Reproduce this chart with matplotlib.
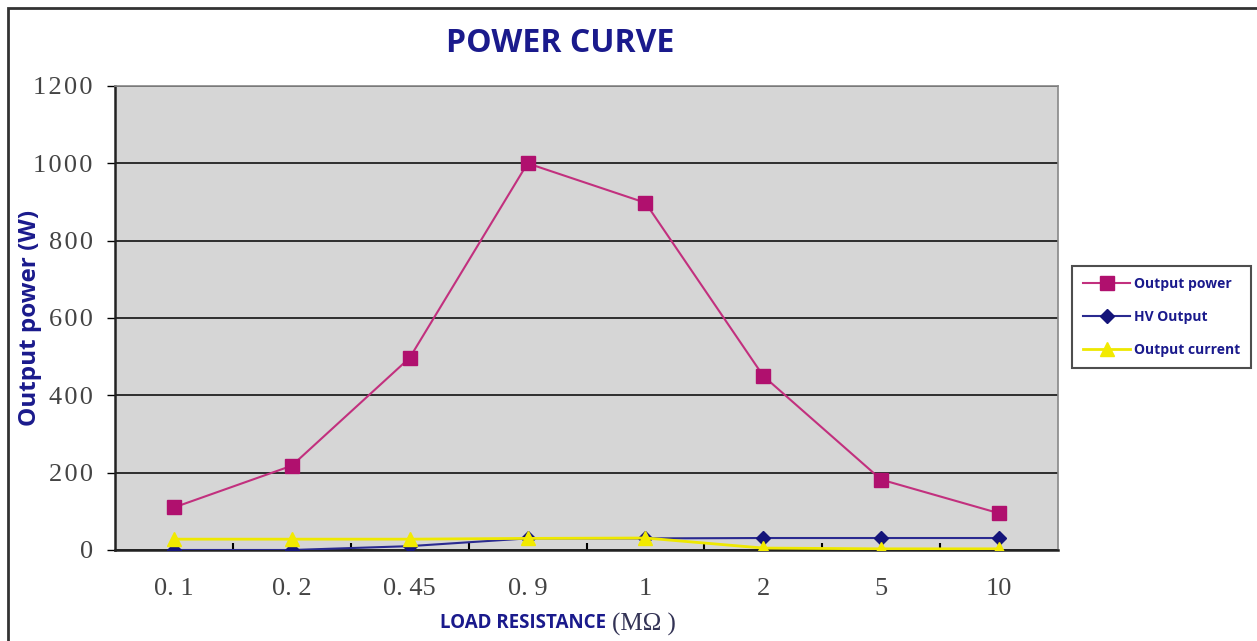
import matplotlib.pyplot as plt
from matplotlib.patches import Rectangle

# data
categories = ['0. 1', '0. 2', '0. 45', '0. 9', '1', '2', '5', '10']
output_power = [110, 218, 497, 1000, 898, 450, 182, 95]
hv_output = [0, 0, 10, 30, 30, 31, 31, 31]
output_current = [28, 28, 28, 30, 31, 5, 3, 3]
y_ticks = [0, 200, 400, 600, 800, 1000, 1200]

navy = '#1a1a8c'
serif = ['Liberation Serif', 'DejaVu Serif']

fig = plt.figure(figsize=(12.57, 6.41), dpi=100)
ax = fig.add_axes([115/1257, 1-550/641, (1058-115)/1257, (550-86)/641])
ax.set_facecolor('#d6d6d6')

x = list(range(len(categories)))
ax.plot(x, output_power, color='#c2307e', lw=1.5, marker='s', ms=10,
        mfc='#b0106e', mec='#b0106e', label='Output power', zorder=4)
ax.plot(x, hv_output, color='#2a2a90', lw=1.5, marker='D', ms=7,
        mfc='#14147a', mec='#14147a', label='HV Output', zorder=3)
ax.plot(x, output_current, color='#eee800', lw=2, marker='^', ms=10,
        mfc='#f2ea00', mec='#f2ea00', label='Output current', zorder=3)

ax.set_xlim(-0.5, len(categories)-0.5)
ax.set_ylim(0, 1200)
ax.set_yticks(y_ticks)
ax.yaxis.grid(True, color='black', lw=1.1)
ax.set_axisbelow(True)

ax.set_xticks(x)
ax.set_xticklabels(categories, family=serif, fontsize=19, color='#444444')
ax.set_xticks([i + 0.5 for i in x[:-1]], minor=True)
ax.tick_params(axis='x', which='major', length=0, pad=20)
ax.tick_params(axis='x', which='minor', length=5, direction='in', width=1.5)
ax.set_yticklabels(['\u200a'.join(str(v)) for v in y_ticks],
                   family=serif, fontsize=19, color='#444444')
ax.tick_params(axis='y', length=6, direction='out', width=1, pad=10)

for s in ['left', 'bottom']:
    ax.spines[s].set_color('#222222')
    ax.spines[s].set_linewidth(1.8)
for s in ['top', 'right']:
    ax.spines[s].set_color('#888888')
    ax.spines[s].set_linewidth(1.2)

fig.text(560/1257, 1-43/641, 'POWER CURVE', ha='center', va='center',
         fontsize=23, fontweight='bold', color=navy, family='Open Sans')
fig.text(30/1257, 1-318/641, 'Output power (W)', rotation=90, ha='center', va='center',
         fontsize=17.5, fontweight='bold', color=navy, family='Open Sans')
fig.text(606/1257, 1-623/641, 'LOAD RESISTANCE', ha='right', va='center',
         fontsize=13.5, fontweight='bold', color=navy, family='Open Sans')
fig.text(612/1257, 1-624/641, '(MΩ )', ha='left', va='center',
         fontsize=18, color='#333355', family=serif)

leg = fig.legend(loc='upper left', bbox_to_anchor=(1072/1257, 1-266/641),
                 frameon=True, fancybox=False, edgecolor='#222222',
                 prop={'family': 'Open Sans', 'weight': 'bold', 'size': 10},
                 handlelength=3.4, borderpad=0.8, labelspacing=1.35, handletextpad=0.25,
                 borderaxespad=0)
leg.get_frame().set_linewidth(1.5)
for t in leg.get_texts():
    t.set_color(navy)

# outer frame of the picture
fig.patches.append(Rectangle((8/1257, -0.01), 1.0, 1-8/641+0.01, transform=fig.transFigure,
                             fill=False, edgecolor='#333333', lw=2))

fig.savefig('out.png', dpi=100)
